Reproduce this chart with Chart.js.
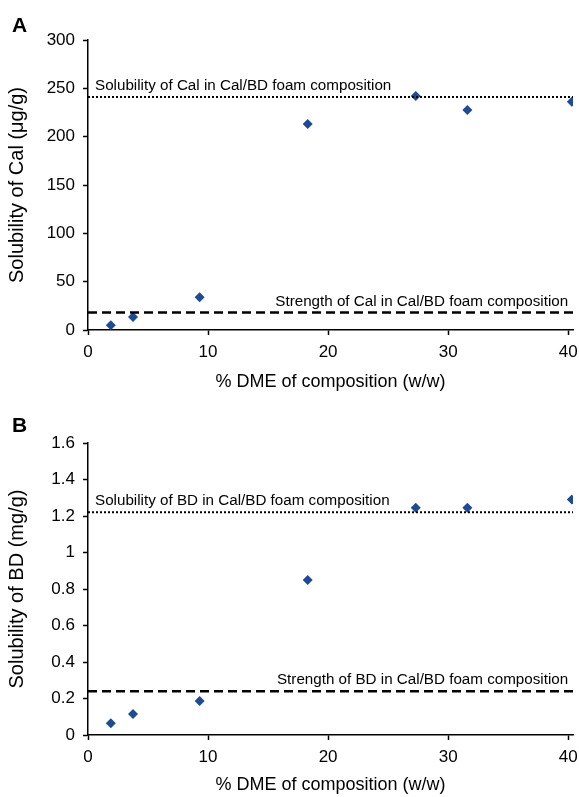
<!DOCTYPE html>
<html>
<head>
<meta charset="UTF-8">
<title>Solubility vs DME</title>
<script src="https://cdn.jsdelivr.net/npm/chart.js@4.4.1/dist/chart.umd.min.js"></script>
<style>
    html, body { margin: 0; padding: 0; background: #fff; }
    .panel { position: absolute; left: 0; width: 579px; }
    #panelA { top: 0; height: 400px; }
    #panelB { top: 400px; height: 397px; }
</style>
</head>
<body>

<div id="panelA" class="panel"><canvas id="chartA"></canvas></div>
<div id="panelB" class="panel"><canvas id="chartB"></canvas></div>

<script>
    // % DME of composition (w/w), same for both panels
    var dmePct = [1.9, 3.75, 9.3, 18.3, 27.3, 31.6, 40.3];

    // panel A - Cal (ug/g)
    var calSolubility = [5, 13.5, 34, 213, 242, 227.5, 236];
    var calSolLimit = 241;
    var calStrength = 18;

    // panel B - BD (mg/g)
    var bdSolubility = [0.065, 0.115, 0.186, 0.85, 1.245, 1.245, 1.29];
    var bdSolLimit = 1.22;
    var bdStrength = 0.24;

    // axis ticks
    var xTicks = [0, 10, 20, 30, 40];
    var calTicks = [0, 50, 100, 150, 200, 250, 300];
    var bdTicks = [0, 0.2, 0.4, 0.6, 0.8, 1, 1.2, 1.4, 1.6];
    var xRange = [0, 40.4];

    var FONT = "'Liberation Sans', Arial, Helvetica, sans-serif";
    Chart.defaults.font.family = FONT;
    Chart.defaults.color = '#000';

    // text labels + panel letter
    var labelPlugin = {
        id: 'labels',
        afterDatasetsDraw: function(chart, args, opts) {
            var ctx = chart.ctx;
            var x = chart.scales.x, y = chart.scales.y;
            ctx.save();
            ctx.fillStyle = '#000';
            ctx.font = '15.2px ' + FONT;
            ctx.textBaseline = 'alphabetic';
            ctx.textAlign = 'left';
            ctx.fillText(opts.solText, x.getPixelForValue(0) + 7, y.getPixelForValue(opts.solValue) - 7);
            ctx.textAlign = 'right';
            ctx.fillText(opts.strText, x.getPixelForValue(40), y.getPixelForValue(opts.strValue) - 7);
            ctx.font = 'bold 21px ' + FONT;
            ctx.textAlign = 'left';
            ctx.fillText(opts.letter, 12, 32);
            ctx.restore();
        }
    };

    function makeChart(id, cfg) {
        var refLine = function(label, v, dash, w) {
            return {
                type: 'line',
                label: label,
                data: [{x: xRange[0], y: v}, {x: xRange[1], y: v}],
                borderColor: '#000',
                borderWidth: w,
                borderDash: dash,
                pointRadius: 0,
                fill: false
            };
        };

        var points = dmePct.map(function(d, i) { return {x: d, y: cfg.values[i]}; });

        return new Chart(document.getElementById(id), {
            type: 'scatter',
            data: {
                datasets: [
                    refLine('solubility', cfg.solValue, [2, 2], 2),
                    refLine('strength', cfg.strValue, [9, 5], 2.5),
                    {
                        label: 'data',
                        data: points,
                        pointStyle: 'rectRot',
                        pointRadius: 5,
                        pointHoverRadius: 5,
                        backgroundColor: '#1d4b95',
                        borderColor: '#1d4b95',
                        borderWidth: 0
                    }
                ]
            },
            options: {
                responsive: true,
                maintainAspectRatio: false,
                animation: false,
                events: [],
                layout: { padding: { left: 0, right: 6, top: cfg.top, bottom: 0 } },
                plugins: {
                    legend: { display: false },
                    tooltip: { enabled: false },
                    labels: {
                        solText: cfg.solText, solValue: cfg.solValue,
                        strText: cfg.strText, strValue: cfg.strValue,
                        letter: cfg.letter
                    }
                },
                scales: {
                    x: {
                        type: 'linear',
                        min: xRange[0],
                        max: xRange[1],
                        afterFit: function(s) {
                            s.height = cfg.xHeight;
                            s.paddingLeft = 0;
                            s.paddingRight = 0;
                        },
                        afterBuildTicks: function(s) { s.ticks = xTicks.map(function(v) { return {value: v}; }); },
                        border: { display: true, color: '#000', width: 1.5 },
                        grid: { display: true, drawOnChartArea: false, drawTicks: true, tickLength: 5, tickColor: '#000', tickWidth: 1.5 },
                        ticks: { font: { size: 17 }, color: '#000', padding: 7, maxRotation: 0 },
                        title: {
                            display: true,
                            text: '% DME of composition (w/w)',
                            font: { size: 18 },
                            color: '#000',
                            padding: { top: 0, bottom: cfg.xTitlePad }
                        }
                    },
                    y: {
                        type: 'linear',
                        min: cfg.ticks[0],
                        max: cfg.ticks[cfg.ticks.length - 1],
                        afterFit: function(s) { s.width = 88; },
                        afterBuildTicks: function(s) { s.ticks = cfg.ticks.map(function(v) { return {value: v}; }); },
                        border: { display: true, color: '#000', width: 1.5 },
                        grid: { display: true, drawOnChartArea: false, drawTicks: true, tickLength: 5, tickColor: '#000', tickWidth: 1.5 },
                        ticks: {
                            font: { size: 17 },
                            color: '#000',
                            padding: 8,
                            callback: function(v) { return String(+v.toFixed(1)); }
                        },
                        title: {
                            display: true,
                            text: cfg.yTitle,
                            font: { size: 20 },
                            color: '#000',
                            padding: { top: 5, bottom: 0 }
                        }
                    }
                }
            },
            plugins: [labelPlugin]
        });
    }

    makeChart('chartA', {
        letter: 'A',
        values: calSolubility,
        ticks: calTicks,
        yTitle: 'Solubility of Cal (μg/g)',
        solText: 'Solubility of Cal in Cal/BD foam composition',
        solValue: calSolLimit,
        strText: 'Strength of Cal in Cal/BD foam composition',
        strValue: calStrength,
        top: 40,
        xHeight: 70,
        xTitlePad: 7
    });

    makeChart('chartB', {
        letter: 'B',
        values: bdSolubility,
        ticks: bdTicks,
        yTitle: 'Solubility of BD (mg/g)',
        solText: 'Solubility of BD in Cal/BD foam composition',
        solValue: bdSolLimit,
        strText: 'Strength of BD in Cal/BD foam composition',
        strValue: bdStrength,
        top: 43,
        xHeight: 62,
        xTitlePad: 1
    });
</script>

</body>
</html>
